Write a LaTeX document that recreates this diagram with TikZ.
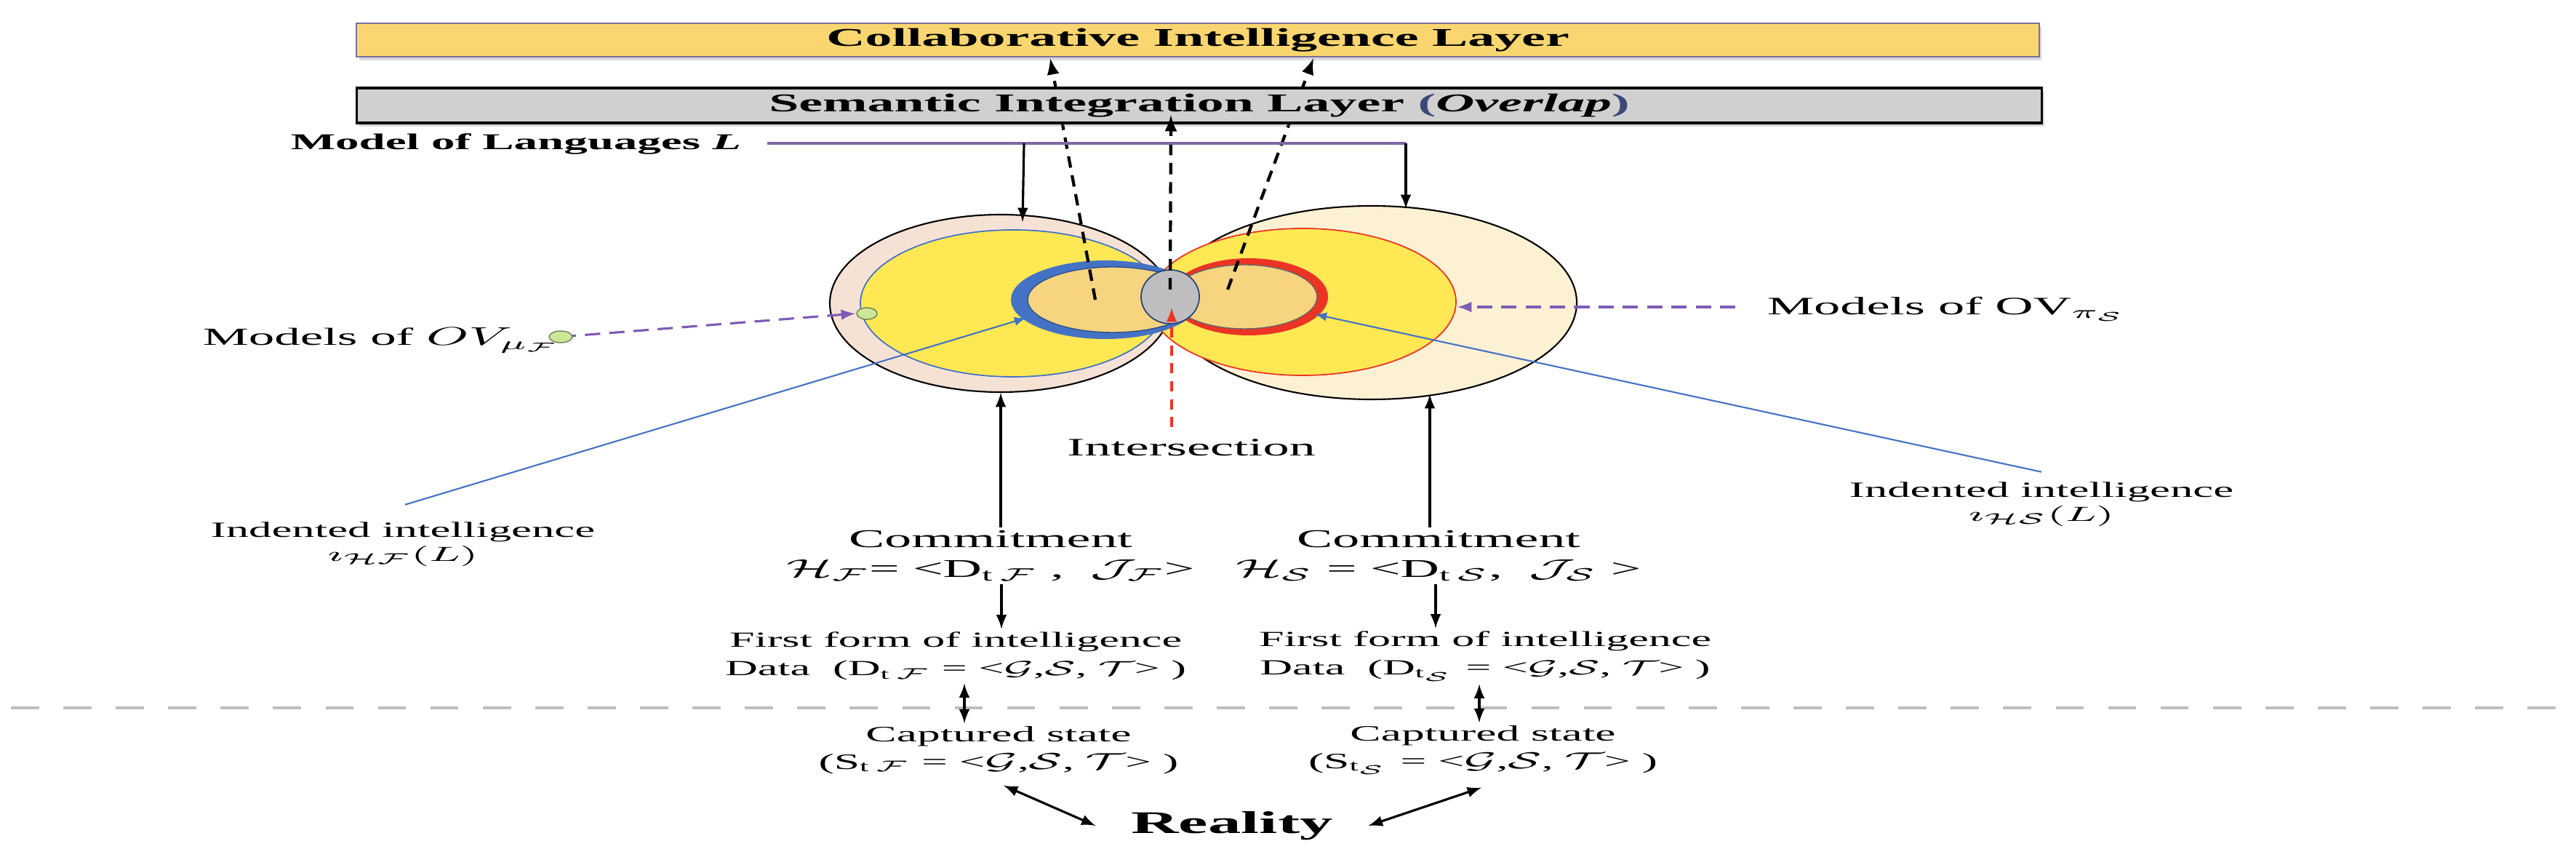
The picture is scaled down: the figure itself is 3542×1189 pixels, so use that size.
\documentclass[tikz,border=0pt]{standalone}
\usepackage{amsmath}
\usepackage{amssymb}
\usepackage{fontspec}
\setmainfont{Liberation Serif}
\usetikzlibrary{calc,arrows,positioning,shadows}

\definecolor{barYellow}{RGB}{249,214,112}
\definecolor{barGray}{RGB}{208,208,208}
\definecolor{parenBlue}{RGB}{60,72,120}
\definecolor{outerPink}{RGB}{246,226,212}
\definecolor{outerCream}{RGB}{253,241,212}
\definecolor{innerYellow}{RGB}{255,232,84}
\definecolor{coreOrange}{RGB}{246,212,128}
\definecolor{ringBlue}{RGB}{68,114,196}
\definecolor{ringRed}{RGB}{236,52,36}
\definecolor{coreGray}{RGB}{190,190,192}
\definecolor{linkPurple}{RGB}{126,92,182}
\definecolor{dotGreen}{RGB}{204,232,150}
\definecolor{groundGray}{RGB}{190,190,190}

\begin{document}
\begin{tikzpicture}[x=0.01cm, y=-0.01cm,
  wide/.style={xscale=2.1},
  txt/.style={wide, inner sep=1pt, align=center},
  layer/.style={wide, inner sep=0pt, font=\fontsize{10}{12}\selectfont\bfseries,
    drop shadow={opacity=0.3, shadow xshift=1pt, shadow yshift=-1.5pt}},
  arr/.style={-latex, line width=0.9pt},
  twoway/.style={latex-latex, line width=0.9pt},
  dashup/.style={-latex, line width=1.2pt, dash pattern=on 4.5pt off 3pt},
  purplelink/.style={-latex, linkPurple, line width=0.9pt, dash pattern=on 6pt off 3.5pt},
  bluelink/.style={-latex, ringBlue, line width=0.6pt},
  greendot/.style={draw=dotGreen!55!black, fill=dotGreen, line width=0.4pt}]
  \useasboundingbox (0,0) rectangle (3542,1189);

  % ground line
  \coordinate (groundW) at (15,973);
  \coordinate (groundE) at (3530,973);
  \draw[groundGray, line width=1.4pt, dash pattern=on 11pt off 9.5pt] (groundW) -- (groundE);

  % outer views
  \fill[outerCream] (1886,416) ellipse [x radius=282, y radius=133];
  \fill[outerPink] (1376,417) ellipse [x radius=235, y radius=122];
  \draw[line width=0.6pt] (1886,416) ellipse [x radius=282, y radius=133]
    (1376,417) ellipse [x radius=235, y radius=122];
  % inner models
  \fill[innerYellow] (1393,417) ellipse [x radius=210, y radius=101];
  \fill[innerYellow] (1791,415) ellipse [x radius=211, y radius=101];
  \draw[ringBlue, line width=0.5pt] (1393,417) ellipse [x radius=210, y radius=101];
  \draw[ringRed, line width=0.5pt] (1791,415) ellipse [x radius=211, y radius=101];
  % cores
  \fill[ringBlue] (1520,412) ellipse [x radius=130, y radius=54];
  \draw[ringBlue!70!black, fill=coreOrange, line width=0.4pt] (1530,412) ellipse [x radius=117, y radius=45];
  \fill[ringRed] (1717,408) ellipse [x radius=109, y radius=53];
  \draw[black!60, fill=coreOrange, line width=0.4pt] (1711,408) ellipse [x radius=100, y radius=44];
  \draw[ringBlue!60!black, fill=coreGray, line width=0.5pt] (1609,408) ellipse [x radius=40, y radius=37];

  % up to the layers
  \coordinate (coreF) at (1506,412);
  \coordinate (coreO) at (1609,398);
  \coordinate (coreS) at (1688,398);
  \coordinate (ciF) at (1444,80);
  \coordinate (ciS) at (1806,80);
  \coordinate (siO) at (1610,158);
  \draw[dashup] (coreF) -- (ciF);
  \draw[dashup] (coreS) -- (ciS);

  \node[layer, fill=barYellow, draw=linkPurple!50!gray, line width=0.5pt,
    minimum width=11.01cm, minimum height=0.46cm] (ciLayer) at (1647,55)
    {Collaborative Intelligence Layer};
  \node[layer, fill=barGray, draw=black, line width=0.9pt,
    minimum width=11.03cm, minimum height=0.48cm] (siLayer) at (1649,145)
    {Semantic Integration Layer {\color{parenBlue}(}\textit{Overlap}{\color{parenBlue})}};
  \draw[dashup] (coreO) -- (siO);

  % language model
  \node[txt, anchor=west, font=\fontsize{8.8}{10}\selectfont\bfseries] (langModel) at (391,198)
    {Model of Languages \textit{L}};
  \coordinate (langW) at (1055,197);
  \coordinate (langF) at (1408,197);
  \coordinate (langE) at (1933,197);
  \coordinate (outerFtop) at (1406,305);
  \coordinate (outerStop) at (1933,287);
  \draw[linkPurple!70!gray, line width=0.9pt] (langW) -- (langE);
  \draw[arr] (langF) -- (outerFtop);
  \draw[arr] (langE) -- (outerStop);

  % models of OV
  \node[txt, anchor=west, font=\fontsize{9.6}{12}\selectfont] (modelsF) at (270,468)
    {Models of $OV_{\mu_{\mathcal{F}}}$};
  \node[txt, anchor=west, font=\fontsize{9.8}{12}\selectfont] (modelsS) at (2421,425)
    {Models of $\mathrm{OV}_{\pi_{\mathcal{S}}}$};
  \coordinate (dotF) at (771,463);
  \coordinate (edgeF) at (1192,431);
  \coordinate (edgeS) at (2004,422);
  \draw[purplelink] (dotF) -- ($(edgeF)+(-16,0)$);
  \draw[purplelink] ($(modelsS.west)+(-35,-3)$) -- (edgeS);
  \draw[greendot] (dotF) ellipse [x radius=16, y radius=8];
  \draw[greendot] (edgeF) ellipse [x radius=14, y radius=8];

  % intended intelligence
  \node[txt, font=\fontsize{8.5}{9.2}\selectfont] (intentF) at (554,748)
    {Indented intelligence\\$\imath_{\mathcal{HF}}(L)$};
  \node[txt, font=\fontsize{8.5}{9.2}\selectfont] (intentS) at (2807,693)
    {Indented intelligence\\$\imath_{\mathcal{H}\mathcal{S}}(L)$};
  \coordinate (ringF) at (1411,437);
  \coordinate (ringS) at (1808,432);
  \draw[bluelink] ($(intentF.north)+(3,-20)$) -- (ringF);
  \draw[bluelink] ($(intentS.north)+(0,-10)$) -- (ringS);

  % intersection
  \node[txt, font=\fontsize{9.8}{12}\selectfont] (intersect) at (1638,615) {Intersection};
  \coordinate (coreGap) at (1611,423);
  \draw[-latex, ringRed, line width=0.9pt, dash pattern=on 4pt off 3pt]
    ($(intersect.north -| coreGap)+(0,-12)$) -- (coreGap);

  % commitments
  \node[txt, font=\fontsize{10}{11.8}\selectfont] (commitF) at (1362,764)
    {Commitment\\$\mathcal{H}_{\mathcal{F}}$= <D$_{\mathrm{t}\,\mathcal{F}}$ ,\ \ $\mathcal{J}_{\mathcal{F}}$>};
  \node[txt, font=\fontsize{10}{11.8}\selectfont] (commitS) at (1978,764)
    {Commitment\\$\mathcal{H}_{\mathcal{S}}$ = <D$_{\mathrm{t}\,\mathcal{S}}$,\ \ $\mathcal{J}_{\mathcal{S}}$ >};
  \coordinate (outerFbot) at (1376,540);
  \coordinate (outerSbot) at (1966,542);
  \draw[arr] (commitF.north -| outerFbot) -- (outerFbot);
  \draw[arr] (commitS.north -| outerSbot) -- (outerSbot);

  % data
  \node[txt, font=\fontsize{8.4}{11.2}\selectfont] (firstF) at (1314,902)
    {First form of intelligence\\Data\ \ (D$_{\mathrm{t}\,\mathcal{F}}$ = <$\mathcal{G}$,$\mathcal{S}$, $\mathcal{T}$> )};
  \node[txt, font=\fontsize{8.4}{11.2}\selectfont] (firstS) at (2042,902)
    {First form of intelligence\\Data\ \ (D$_{\mathrm{t}_{\mathcal{S}}}$ = <$\mathcal{G}$,$\mathcal{S}$, $\mathcal{T}$> )};
  \coordinate (dropF) at (1377,0);
  \coordinate (dropS) at (1974,0);
  \draw[arr] (commitF.south -| dropF) -- (firstF.north -| dropF);
  \draw[arr] (commitS.south -| dropS) -- (firstS.north -| dropS);

  % captured states
  \node[txt, font=\fontsize{8.6}{10.7}\selectfont] (captF) at (1373,1031)
    {Captured state\\(S$_{\mathrm{t}\,\mathcal{F}}$ = <$\mathcal{G}$,$\mathcal{S}$, $\mathcal{T}$> )};
  \node[txt, font=\fontsize{8.6}{10.7}\selectfont] (captS) at (2039,1031)
    {Captured state\\(S$_{\mathrm{t}_{\mathcal{S}}}$ = <$\mathcal{G}$,$\mathcal{S}$, $\mathcal{T}$> )};
  \coordinate (linkF) at (1326,0);
  \coordinate (linkS) at (2034,0);
  \draw[twoway] (firstF.south -| linkF) -- (captF.north -| linkF);
  \draw[twoway] (firstS.south -| linkS) -- (captS.north -| linkS);

  % reality
  \node[txt, font=\fontsize{12.3}{14}\selectfont\bfseries] (reality) at (1694,1135) {Reality};
  \draw[twoway] ($(captF.south)+(7,12)$) -- ($(reality.west)+(-40,0)$);
  \draw[twoway] ($(captS.south)+(-2,14)$) -- ($(reality.east)+(40,0)$);
\end{tikzpicture}
\end{document}
